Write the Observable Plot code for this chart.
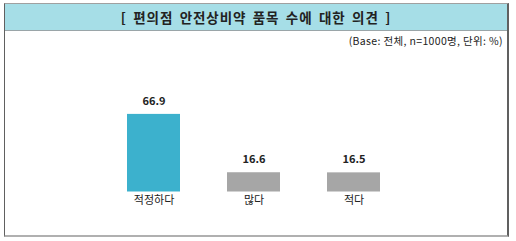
<!DOCTYPE html>
<html>
<head>
<meta charset="utf-8">
<script src="https://cdn.jsdelivr.net/npm/d3@7"></script>
<script src="https://cdn.jsdelivr.net/npm/@observablehq/plot@0.6"></script>
<style>
  html, body { margin: 0; padding: 0; background: #fff; }
  #wrap { position: relative; width: 516px; height: 241px; font-family: "Noto Sans CJK KR", "Noto Sans", sans-serif; overflow: hidden; }
  #box { position: absolute; left: 4px; top: 3px; width: 502px; height: 231px; border-left: 1px solid #606060; border-right: 2px solid #606060; border-top: 1px solid #a0a0a0; border-bottom: 2px solid #b0b0b0; }
  #title { position: absolute; left: 5px; top: 4px; width: 502px; height: 26px; background: #a6dee7; border-bottom: 1px solid #9aa5a8; text-align: center; font-weight: bold; font-size: 13.5px; line-height: 26px; color: #222; letter-spacing: 0.9px; word-spacing: 2.5px; }
  #sub { position: absolute; right: 13px; top: 33px; font-size: 10.5px; color: #222; line-height: 16px; letter-spacing: 0.35px; }
  #chart { position: absolute; left: 0; top: 0; }
</style>
</head>
<body>
<div id="wrap">
  <div id="box"></div>
  <div id="title"></div>
  <div id="sub"></div>
  <div id="chart"></div>
</div>
<script>
const titleText = "[ 편의점 안전상비약 품목 수에 대한 의견 ]";
const subtitleText = "(Base: 전체, n=1000명, 단위: %)";
const categories = ["적정하다", "많다", "적다"];
const values = [66.9, 16.6, 16.5];
const colors = ["#3cb1cd", "#a6a6a6", "#a6a6a6"];

document.getElementById("title").textContent = titleText;
document.getElementById("sub").textContent = subtitleText;

const data = categories.map((c, i) => ({cat: c, value: values[i], color: colors[i]}));

const chart = Plot.plot({
  width: 516,
  height: 241,
  marginTop: 75.5,
  marginBottom: 49.5,
  marginLeft: 80,
  marginRight: 89,
  style: {fontFamily: '"Noto Sans CJK KR", "Noto Sans", sans-serif', background: "transparent", overflow: "visible"},
  x: {domain: categories, padding: 0.47, label: null},
  y: {domain: [0, 100], axis: null},
  marks: [
    Plot.barY(data, {x: "cat", y: "value", fill: "color"}),
    Plot.text(data, {x: "cat", y: "value", text: d => d.value.toFixed(1), dy: -13, fontWeight: "bold", fontSize: 11, fill: "#222"}),
    Plot.axisX({tickSize: 0, tickPadding: 4, fontSize: 11, color: "#222", label: null})
  ]
});
document.getElementById("chart").appendChild(chart);
</script>
</body>
</html>
